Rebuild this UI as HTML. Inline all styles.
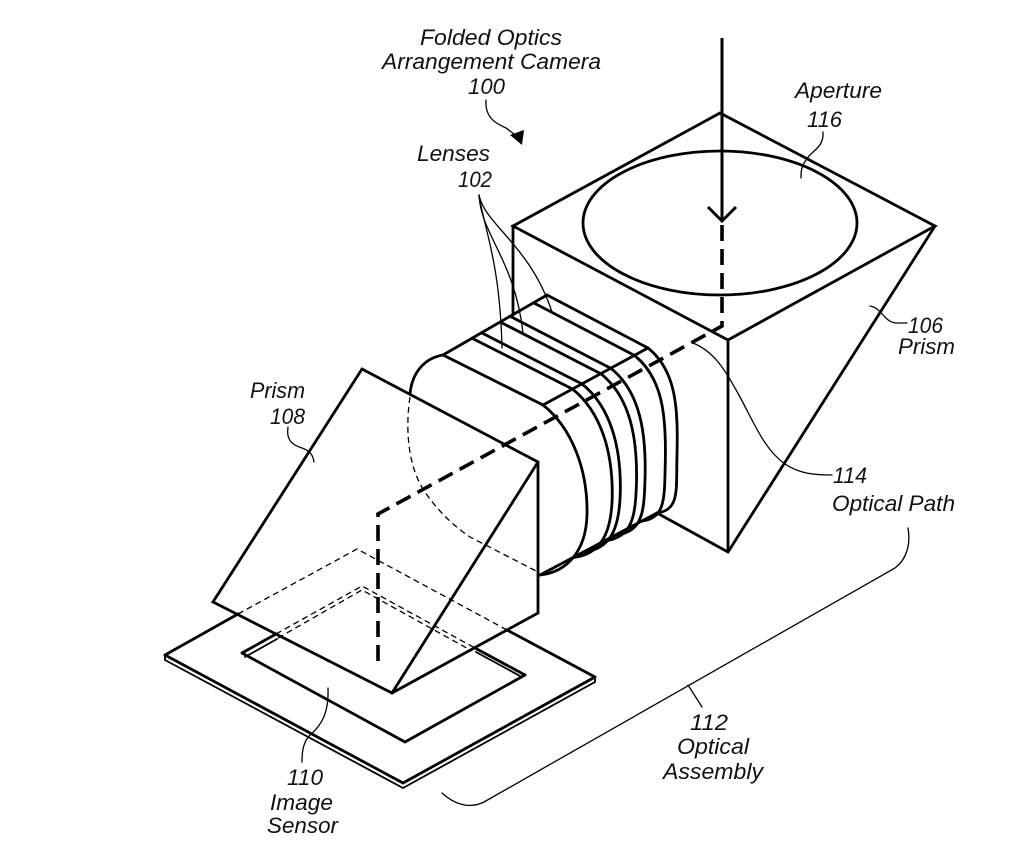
<!DOCTYPE html>
<html>
<head>
<meta charset="utf-8">
<style>
  html,body{margin:0;padding:0;background:#fff;}
  svg{display:block;}
  text{font-family:"Liberation Sans",Arial,sans-serif;font-style:italic;font-size:22px;fill:#111;}
</style>
</head>
<body>
<svg width="1024" height="847" viewBox="0 0 1024 847" xmlns="http://www.w3.org/2000/svg">
  <rect width="1024" height="847" fill="#fff"/>

  <g fill="none" stroke="#000" stroke-width="2.8" stroke-linejoin="miter" stroke-linecap="round">
    <!-- Prism 106 (box) -->
    <path d="M513,226 L720,113 L935,226 L728,340 Z"/>
    <ellipse cx="720" cy="223" rx="137" ry="72"/>
    <path d="M513,226 L513,315"/>
    <path d="M728,340 L728,552"/>
    <path d="M935,226 L728,552"/>
    <path d="M728,552 L657,513"/>

    <!-- Lens barrel top face -->
    <path d="M443,355 L547,295"/>
    <path d="M543,405 L648,348"/>
    <path d="M540,575 L657,513"/>
    <path d="M410,394 C412,372 425,358 443,355"/>
    <path d="M443,355 L543,405"/>
    <path d="M472.1,338.2 L572.4,389"/>
    <path d="M481.5,332.8 L581.9,383.9"/>
    <path d="M500.2,322 L600.8,373.7"/>
    <path d="M510.1,316.3 L610.7,368.2"/>
    <path d="M533.5,302.8 L634.4,355.4"/>
    <path d="M547,295 L648,348"/>

    <!-- Lens rims -->
    <path d="M543,405 C572,428 588,470 587,515 C586,550 568,572 540,575"/>
    <path d="M572.4,389 C601.4,412 613.2,453.2 612.2,498.2 C611.2,533.2 600.8,554.6 572.8,557.6"/>
    <path d="M581.9,383.9 C610.9,406.9 621.3,447.8 620.3,492.8 C619.3,527.8 611.3,549.1 583.3,552.1"/>
    <path d="M600.8,373.7 C629.8,396.7 637.5,437 636.5,482 C635.5,517 632.4,537.9 604.4,540.9"/>
    <path d="M610.7,368.2 C639.7,391.2 646.1,431.3 645.1,476.3 C644.1,511.3 643.5,532 615.5,535"/>
    <path d="M634.4,355.4 C663.4,378.4 666.3,417.8 665.3,462.8 C664.3,497.8 666,518 641.8,521.1"/>
    <path d="M648,348 C677,371 678,410 677,455 C676,490 680,510 657,513"/>

    <!-- Prism 108 -->
    <path d="M362,369 L538,462 L538,613 L392,693 L213,602 Z"/>
    <path d="M538,462 L392,693"/>

    <!-- Image sensor plate -->
    <path d="M165,655 L403,783 L595,677"/>
    <path d="M165,655 L238,614"/>
    <path d="M507,630 L595,677"/>
    <path d="M242,653 L405,742 L525,675"/>
    <path d="M242,653 L276,634"/>
    <path d="M475,648 L525,675"/>
  </g>

  <g fill="none" stroke="#000" stroke-width="1.8" stroke-linecap="round">
    <path d="M165,655 L165,660 L403,788 L595,682 L595,677"/>
    <path d="M245,657 L277,639"/>
    <path d="M476,652 L520,676"/>
  </g>

  <!-- hidden (dashed thin) lines -->
  <g fill="none" stroke="#000" stroke-width="1.3" stroke-dasharray="6 4">
    <path d="M410,397 C405,430 408,470 427,495 C440,513 455,527 470,537 L538,572"/>
    <path d="M238,614 L357,549 L507,630"/>
    <path d="M276,634 L362,586 L475,648"/>
    <path d="M278,638 L362,590 L472,651"/>
  </g>

  <!-- optical path -->
  <path d="M722,225 L722,326 L378,514 L378,668" fill="none" stroke="#000" stroke-width="3.6" stroke-dasharray="16 8"/>
  <path d="M722,38 L722,221" fill="none" stroke="#000" stroke-width="3"/>
  <path d="M708,207 L722,221 L736,207" fill="none" stroke="#000" stroke-width="3" stroke-linejoin="miter"/>

  <!-- leaders -->
  <g fill="none" stroke="#000" stroke-width="1.3" stroke-linecap="round">
    <path d="M479,195 C483,225 500,260 502,348"/>
    <path d="M479,195 C481,235 515,260 523,333"/>
    <path d="M479,195 C485,225 530,245 552,312"/>
    <path d="M823,132 C824,148 812,150 806,160 C801,167 801,172 801,178"/>
    <path d="M870,306 C882,308 884,322 896,323 L907,323"/>
    <path d="M693,343 C715,352 725,370 740,397 C755,425 765,450 785,464 C800,474 815,475 832,475"/>
    <path d="M288,427 C286,440 292,445 302,448 C310,451 313,455 314,462"/>
    <path d="M328,688 C329,712 322,725 310,735 C303,742 302,752 302,762"/>
    <path d="M486,100 C485,115 492,122 506,128 L514,134"/>
    <path d="M908,528 C911,545 906,560 895,568 L484,802 C470,809 455,805 442,793"/>
    <path d="M688,685 L702,707"/>
  </g>
  <polygon points="510,135 524,130 522,145" fill="#000"/>

  <!-- labels -->
  <text x="420" y="45" textLength="142" lengthAdjust="spacingAndGlyphs">Folded Optics</text>
  <text x="382" y="69" textLength="219" lengthAdjust="spacingAndGlyphs">Arrangement Camera</text>
  <text x="468" y="94" textLength="37" lengthAdjust="spacingAndGlyphs">100</text>

  <text x="417" y="161" textLength="73" lengthAdjust="spacingAndGlyphs">Lenses</text>
  <text x="458" y="187" textLength="34" lengthAdjust="spacingAndGlyphs">102</text>

  <text x="795" y="98" textLength="87" lengthAdjust="spacingAndGlyphs">Aperture</text>
  <text x="807" y="127" textLength="35" lengthAdjust="spacingAndGlyphs">116</text>

  <text x="908" y="333" textLength="35" lengthAdjust="spacingAndGlyphs">106</text>
  <text x="898" y="354" textLength="57" lengthAdjust="spacingAndGlyphs">Prism</text>

  <text x="833" y="483" textLength="34" lengthAdjust="spacingAndGlyphs">114</text>
  <text x="832" y="511" textLength="123" lengthAdjust="spacingAndGlyphs">Optical Path</text>

  <text x="250" y="398" textLength="55" lengthAdjust="spacingAndGlyphs">Prism</text>
  <text x="270" y="424" textLength="35" lengthAdjust="spacingAndGlyphs">108</text>

  <text x="690" y="730" textLength="38" lengthAdjust="spacingAndGlyphs">112</text>
  <text x="677" y="754" textLength="72" lengthAdjust="spacingAndGlyphs">Optical</text>
  <text x="663" y="779" textLength="100" lengthAdjust="spacingAndGlyphs">Assembly</text>

  <text x="287" y="785" textLength="36" lengthAdjust="spacingAndGlyphs">110</text>
  <text x="270" y="810" textLength="63" lengthAdjust="spacingAndGlyphs">Image</text>
  <text x="267" y="833" textLength="71" lengthAdjust="spacingAndGlyphs">Sensor</text>
</svg>
</body>
</html>
